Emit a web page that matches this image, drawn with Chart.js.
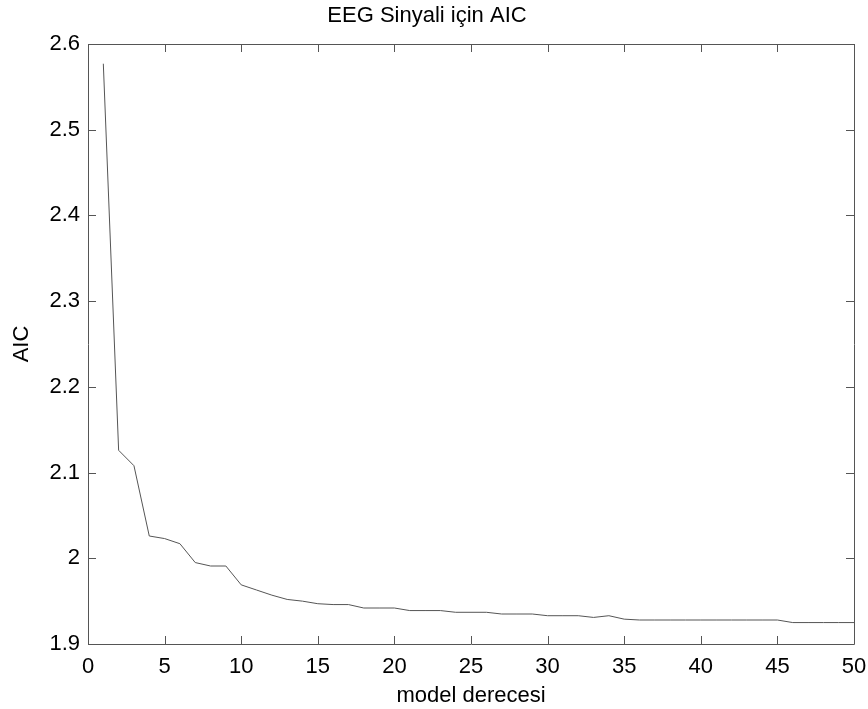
<!DOCTYPE html>
<html>
<head>
<meta charset="utf-8">
<script src="https://cdn.jsdelivr.net/npm/chart.js@4/dist/chart.umd.min.js"></script>
<style>
  html, body { margin: 0; padding: 0; background: #fff; }
  #wrap { width: 868px; height: 709px; }
</style>
</head>
<body>
<div id="wrap"><canvas id="aicChart" width="868" height="709"></canvas></div>
<script>
// model order (x) and AIC value (y)
const modelOrders = [1, 2, 3, 4, 5, 6, 7, 8, 9, 10,
  11, 12, 13, 14, 15, 16, 17, 18, 19, 20,
  21, 22, 23, 24, 25, 26, 27, 28, 29, 30,
  31, 32, 33, 34, 35, 36, 37, 38, 39, 40,
  41, 42, 43, 44, 45, 46, 47, 48, 49, 50];
const aicValues = [2.577, 2.126, 2.108, 2.026, 2.023, 2.017, 1.995, 1.991, 1.991, 1.969,
  1.963, 1.957, 1.952, 1.950, 1.947, 1.946, 1.946, 1.942, 1.942, 1.942,
  1.939, 1.939, 1.939, 1.937, 1.937, 1.937, 1.935, 1.935, 1.935, 1.933,
  1.933, 1.933, 1.931, 1.933, 1.929, 1.928, 1.928, 1.928, 1.928, 1.928,
  1.928, 1.928, 1.928, 1.928, 1.928, 1.925, 1.925, 1.925, 1.925, 1.925];

const chartTitle = 'EEG Sinyali için AIC';
const xTitle = 'model derecesi';
const yTitle = 'AIC';

const FONT = 'Liberation Sans, Arial, Helvetica, sans-serif';
const axisColor = '#555555';

// matlab style box with ticks pointing inwards on all four sides
const boxTicks = {
  id: 'boxTicks',
  afterDraw(chart) {
    const { ctx, chartArea: a } = chart;
    const xs = chart.scales.x;
    const ys = chart.scales.y;
    const len = 8;
    ctx.save();
    ctx.strokeStyle = axisColor;
    ctx.lineWidth = 1;
    ctx.beginPath();
    ctx.rect(Math.round(a.left) + 0.5, Math.round(a.top) + 0.5,
      Math.round(a.right - a.left), Math.round(a.bottom - a.top));
    xs.ticks.forEach(t => {
      const px = Math.round(xs.getPixelForValue(t.value)) + 0.5;
      ctx.moveTo(px, a.bottom);
      ctx.lineTo(px, a.bottom - len);
      ctx.moveTo(px, a.top);
      ctx.lineTo(px, a.top + len);
    });
    ys.ticks.forEach(t => {
      const py = Math.round(ys.getPixelForValue(t.value)) + 0.5;
      ctx.moveTo(a.left, py);
      ctx.lineTo(a.left + len, py);
      ctx.moveTo(a.right, py);
      ctx.lineTo(a.right - len, py);
    });
    ctx.stroke();
    ctx.restore();
  }
};

const ctx = document.getElementById('aicChart').getContext('2d');
new Chart(ctx, {
  type: 'line',
  data: {
    datasets: [{
      data: modelOrders.map((o, i) => ({ x: o, y: aicValues[i] })),
      borderColor: '#555555',
      borderWidth: 1,
      pointRadius: 0,
      tension: 0,
      fill: false
    }]
  },
  options: {
    responsive: false,
    animation: false,
    layout: { padding: { left: 0, right: 14, top: 0, bottom: 0 } },
    plugins: {
      legend: { display: false },
      tooltip: { enabled: false },
      title: {
        display: true,
        text: chartTitle,
        color: '#000',
        font: { family: FONT, size: 22, weight: 'normal' },
        padding: { top: 3, bottom: 14.6 }
      }
    },
    scales: {
      x: {
        type: 'linear',
        min: 0,
        max: 50,
        afterFit: s => { s.height = 65; s.paddingRight = 0; s.paddingLeft = 0; },
        grid: { display: false, drawTicks: false },
        border: { display: false },
        ticks: {
          stepSize: 5,
          padding: 10,
          color: '#000',
          font: { family: FONT, size: 22 },
          maxRotation: 0
        },
        title: {
          display: true,
          text: xTitle,
          color: '#000',
          font: { family: FONT, size: 22 },
          padding: { top: 0, bottom: 0 }
        }
      },
      y: {
        min: 1.9,
        max: 2.6,
        afterFit: s => { s.width = 88; },
        grid: { display: false, drawTicks: false },
        border: { display: false },
        ticks: {
          stepSize: 0.1,
          padding: 8,
          color: '#000',
          font: { family: FONT, size: 22 },
          callback: v => parseFloat(v.toFixed(1)).toString()
        },
        title: {
          display: true,
          text: yTitle,
          color: '#000',
          font: { family: FONT, size: 22 },
          padding: { top: 9, bottom: 0 }
        }
      }
    }
  },
  plugins: [boxTicks]
});
</script>
</body>
</html>
